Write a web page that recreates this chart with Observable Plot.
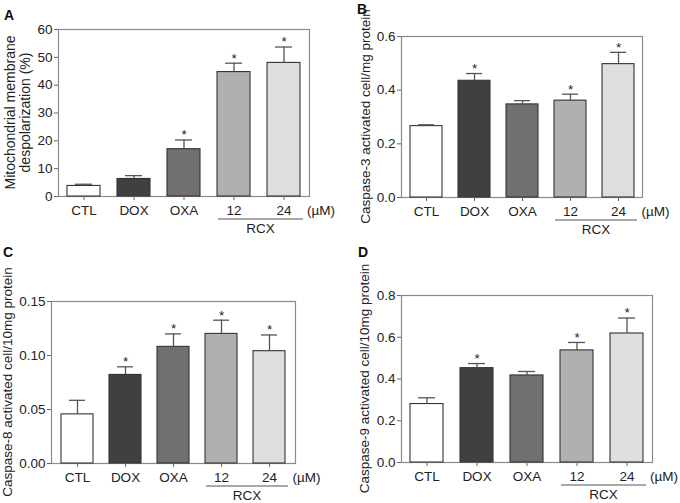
<!DOCTYPE html>
<html><head><meta charset="utf-8">
<script src="https://cdn.jsdelivr.net/npm/d3@7"></script>
<script src="https://cdn.jsdelivr.net/npm/@observablehq/plot@0.6"></script>
<style>
body{margin:0;background:#fff;}
#wrap{position:relative;width:680px;height:503px;overflow:hidden;font-family:"Liberation Sans",Arial,sans-serif;}
#wrap svg{position:absolute;overflow:visible;}
.letter{position:absolute;font-weight:bold;font-size:14px;line-height:14px;color:#111;}
</style></head><body><div id="wrap"></div>
<script>
const categories = ["CTL","DOX","OXA","12","24"];
const barFills = ["#ffffff","#404040","#707070","#b0b0b0","#dedede"];
const groupLabel = "RCX";
const unitLabel = "(µM)";

const mmpMean = [3.8, 6.3, 17.0, 44.7, 48.0];
const mmpErr  = [0.6, 1.2, 3.3, 3.2, 5.7];
const mmpSig  = [false, false, true, true, true];

const casp3Mean = [0.266, 0.435, 0.347, 0.361, 0.497];
const casp3Err  = [0.005, 0.027, 0.014, 0.024, 0.044];
const casp3Sig  = [false, true, false, true, true];

const casp8Mean = [0.0455, 0.082, 0.108, 0.120, 0.104];
const casp8Err  = [0.013, 0.0075, 0.012, 0.0127, 0.015];
const casp8Sig  = [false, true, true, true, true];

const casp9Mean = [0.280, 0.452, 0.417, 0.537, 0.618];
const casp9Err  = [0.030, 0.022, 0.019, 0.038, 0.074];
const casp9Sig  = [false, true, false, true, true];

const yTicksA = [0, 10, 20, 30, 40, 50, 60];
const yTicksB = [0, 0.2, 0.4, 0.6];
const yTicksC = [0, 0.05, 0.10, 0.15];
const yTicksD = [0, 0.2, 0.4, 0.6, 0.8];

const panels = [
  {letter:"A", left:0, top:0, w:340, h:250, mt:29, mr:31, mb:54, ml:58,
   mean:mmpMean, err:mmpErr, sig:mmpSig, domain:[0,60], ticks:yTicksA, fmt:"d",
   label:["Mitochondrial membrane","despolarization (%)"], labelX:[15,30], labelSize:14, lx:4, ly:8},
  {letter:"B", left:340, top:0, w:340, h:250, mt:36, mr:38, mb:53, ml:61,
   mean:casp3Mean, err:casp3Err, sig:casp3Sig, domain:[0,0.6], ticks:yTicksB, fmt:".1f",
   label:["Caspase-3 activated cell/mg protein"], labelX:[30], labelSize:13.5, lx:357, ly:2},
  {letter:"C", left:0, top:240, w:340, h:263, mt:61, mr:45, mb:40, ml:51,
   mean:casp8Mean, err:casp8Err, sig:casp8Sig, domain:[0,0.15], ticks:yTicksC, fmt:".2f",
   label:["Caspase-8 activated cell/10mg protein"], labelX:[12], labelSize:13.5, lx:3, ly:245},
  {letter:"D", left:340, top:240, w:340, h:263, mt:55, mr:28, mb:41, ml:61,
   mean:casp9Mean, err:casp9Err, sig:casp9Sig, domain:[0,0.8], ticks:yTicksD, fmt:".1f",
   label:["Caspase-9 activated cell/10mg protein"], labelX:[29], labelSize:13.5, lx:358, ly:245}
];

const wrap = document.getElementById("wrap");
const font = "Liberation Sans, Arial, sans-serif";
const FS = 13.5;

for (const p of panels) {
  const data = categories.map((c, i) => ({cat: c, v: p.mean[i], top: p.mean[i] + p.err[i], sig: p.sig[i]}));
  const plot = Plot.plot({
    width: p.w, height: p.h,
    marginTop: p.mt, marginRight: p.mr, marginBottom: p.mb, marginLeft: p.ml,
    style: {fontFamily: font, fontSize: FS + "px", color: "#222", background: "transparent", overflow: "visible"},
    x: {domain: categories, paddingInner: 0.34, paddingOuter: 0.17, label: null},
    y: {domain: p.domain, label: null},
    color: {domain: categories, range: barFills},
    marks: [
      Plot.frame({stroke: "#8a8a8a", strokeWidth: 1.2}),
      Plot.barY(data, {x: "cat", y: "v", fill: "cat", stroke: "#333", strokeWidth: 1.1}),
      Plot.ruleX(data, {x: "cat", y1: "v", y2: "top", stroke: "#555", strokeWidth: 1.3}),
      Plot.tickY(data, {x: "cat", y: "top", stroke: "#555", strokeWidth: 1.3, insetLeft: 8, insetRight: 8}),
      Plot.text(data.filter(d => d.sig), {x: "cat", y: "top", text: () => "*", dy: -5, fontSize: FS, fill: "#222"}),
      Plot.text([categories[categories.length - 1]], {x: d => d, y: () => p.domain[0], text: () => unitLabel,
        textAnchor: "start", lineAnchor: "top", dx: 23, dy: 9, fontSize: FS, fill: "#222"}),
      Plot.axisX({tickSize: 4, tickPadding: 5, stroke: "#666", fontSize: FS, fill: "#222", label: null}),
      Plot.axisY({ticks: p.ticks, tickFormat: d3.format(p.fmt), tickSize: 4, tickPadding: 2, stroke: "#666", fontSize: FS, fill: "#222", label: null})
    ]
  });
  plot.style.left = p.left + "px";
  plot.style.top = p.top + "px";
  wrap.appendChild(plot);

  const svg = d3.select(plot);
  const xs = plot.scale("x");
  const bw = xs.bandwidth;
  const y0 = p.h - p.mb;
  const x1 = xs.apply(categories[3]) + 1;
  const x2 = xs.apply(categories[4]) + bw + 3;
  svg.append("line").attr("x1", x1).attr("x2", x2).attr("y1", y0 + 23).attr("y2", y0 + 23)
     .attr("stroke", "#555").attr("stroke-width", 1.2);
  svg.append("text").attr("x", (x1 + x2) / 2).attr("y", y0 + 37).attr("text-anchor", "middle")
     .attr("font-family", font).attr("font-size", FS).attr("fill", "#222").text(groupLabel);

  const cy = (p.mt + (p.h - p.mb)) / 2;
  p.label.forEach((t, i) => {
    svg.append("text").attr("transform", `translate(${p.labelX[i]},${cy}) rotate(-90)`)
      .attr("text-anchor", "middle").attr("font-family", font).attr("font-size", p.labelSize)
      .attr("fill", "#222").text(t);
  });
  const L = document.createElement("div");
  L.className = "letter";
  L.style.left = p.lx + "px";
  L.style.top = p.ly + "px";
  L.textContent = p.letter;
  wrap.appendChild(L);
}
</script>
</body></html>
